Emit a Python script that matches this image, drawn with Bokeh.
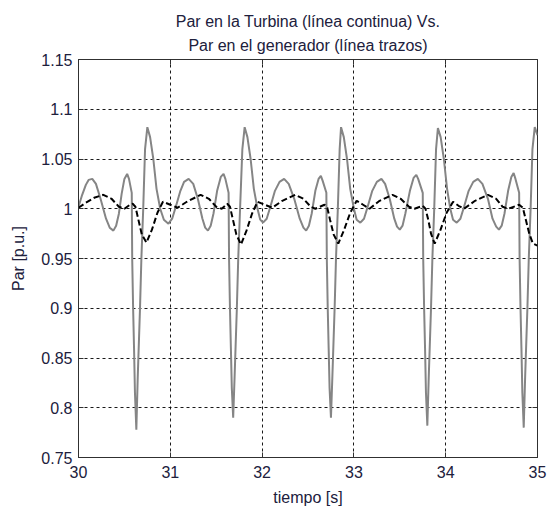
from bokeh.plotting import figure
from bokeh.models import Range1d, Title, LinearAxis, FixedTicker
from bokeh.embed import file_html
from bokeh.resources import INLINE

# ---- data ----
turbina_t = [
    # start
    30.00, 30.04, 30.08, 30.11, 30.15, 30.19, 30.24, 30.30, 30.34, 30.38, 30.41, 30.44, 30.47, 30.50, 30.53,
    # spike 1
    30.55, 30.58, 30.585, 30.595, 30.605, 30.615, 30.630, 30.645, 30.670, 30.685, 30.705, 30.725, 30.750,
    30.78, 30.815, 30.85, 30.89, 30.93, 30.98, 31.02, 31.06, 31.11, 31.15, 31.20, 31.25, 31.30, 31.35, 31.38,
    31.41, 31.44, 31.47, 31.51, 31.55, 31.58,
    # spike 2
    31.60, 31.635, 31.640, 31.650, 31.660, 31.670, 31.685, 31.700, 31.725, 31.740, 31.760, 31.785, 31.810,
    31.84, 31.875, 31.91, 31.95, 31.98, 32.01, 32.05, 32.09, 32.14, 32.19, 32.24, 32.29, 32.35, 32.41, 32.45,
    32.48, 32.51, 32.54, 32.58, 32.615, 32.64,
    # spike 3
    32.66, 32.70, 32.705, 32.715, 32.725, 32.735, 32.750, 32.765, 32.790, 32.805, 32.825, 32.845, 32.860,
    32.89, 32.925, 32.96, 33.00, 33.03, 33.07, 33.11, 33.15, 33.20, 33.25, 33.30, 33.34, 33.39, 33.44, 33.47,
    33.50, 33.53, 33.56, 33.61, 33.65, 33.68,
    # spike 4
    33.70, 33.75, 33.755, 33.765, 33.775, 33.785, 33.800, 33.815, 33.840, 33.855, 33.875, 33.895, 33.915,
    33.945, 33.98, 34.015, 34.05, 34.08, 34.12, 34.16, 34.20, 34.25, 34.30, 34.35, 34.40, 34.46, 34.51, 34.55,
    34.58, 34.61, 34.64, 34.68, 34.715, 34.74,
    # spike 5
    34.76, 34.80, 34.805, 34.815, 34.825, 34.835, 34.850, 34.865, 34.890, 34.905, 34.925, 34.945, 34.970,
    35.00,
]
turbina_par = [
    1.002, 1.014, 1.024, 1.029, 1.030, 1.025, 1.010, 0.990, 0.981, 0.978, 0.983, 0.995, 1.015, 1.030, 1.035,
    1.030, 1.016, 0.950, 0.900, 0.860, 0.815, 0.778, 0.830, 0.900, 0.950, 1.000, 1.060, 1.082,
    1.072, 1.050, 1.020, 1.000, 0.989, 0.985, 0.990, 1.002, 1.018, 1.027, 1.030, 1.025, 1.010, 0.990, 0.981,
    0.978, 0.983, 0.995, 1.018, 1.032, 1.035,
    1.030, 1.016, 0.950, 0.900, 0.860, 0.820, 0.790, 0.830, 0.900, 0.950, 1.000, 1.060, 1.082,
    1.072, 1.050, 1.020, 1.000, 0.989, 0.986, 0.990, 1.002, 1.018, 1.027, 1.030, 1.025, 1.010, 0.990, 0.981,
    0.978, 0.983, 0.995, 1.018, 1.030, 1.033,
    1.028, 1.016, 0.950, 0.900, 0.860, 0.820, 0.790, 0.830, 0.900, 0.950, 1.000, 1.060, 1.082,
    1.072, 1.050, 1.020, 1.000, 0.989, 0.986, 0.990, 1.002, 1.018, 1.027, 1.030, 1.025, 1.010, 0.990, 0.982,
    0.979, 0.983, 0.995, 1.018, 1.031, 1.034,
    1.030, 1.016, 0.950, 0.900, 0.860, 0.815, 0.782, 0.830, 0.900, 0.950, 1.000, 1.060, 1.081,
    1.072, 1.050, 1.020, 1.000, 0.989, 0.986, 0.990, 1.002, 1.018, 1.027, 1.030, 1.025, 1.010, 0.990, 0.982,
    0.979, 0.983, 0.995, 1.018, 1.032, 1.036,
    1.030, 1.016, 0.950, 0.900, 0.860, 0.815, 0.780, 0.830, 0.900, 0.950, 1.000, 1.060, 1.082,
    1.074,
]

generador_t = [
    30.00, 30.08, 30.17, 30.27, 30.36, 30.44, 30.50, 30.56, 30.59,
    30.62, 30.65, 30.69, 30.74, 30.80, 30.86, 30.92, 31.00, 31.08, 31.18, 31.33, 31.42, 31.50, 31.56, 31.62,
    31.65, 31.68, 31.72, 31.77, 31.83, 31.89, 31.95, 32.03, 32.11, 32.22, 32.36, 32.45, 32.53, 32.58, 32.68,
    32.71, 32.74, 32.78, 32.83, 32.89, 32.96, 33.03, 33.10, 33.17, 33.28, 33.42, 33.51, 33.60, 33.66, 33.75,
    33.78, 33.81, 33.84, 33.88, 33.94, 34.01, 34.08, 34.14, 34.20, 34.32, 34.46, 34.55, 34.62, 34.68, 34.80,
    34.84, 34.87, 34.91, 34.95, 35.00,
]
generador_par = [
    1.001, 1.006, 1.011, 1.014, 1.010, 1.002, 1.000, 1.004, 1.005,
    1.002, 0.990, 0.974, 0.966, 0.979, 0.996, 1.007, 1.004, 1.001, 1.007, 1.014, 1.010, 1.002, 1.000, 1.005,
    1.002, 0.990, 0.974, 0.964, 0.978, 0.995, 1.007, 1.004, 1.001, 1.008, 1.014, 1.010, 1.002, 1.000, 1.004,
    1.001, 0.989, 0.974, 0.965, 0.978, 0.996, 1.008, 1.004, 1.000, 1.008, 1.014, 1.010, 1.002, 1.000, 1.003,
    1.000, 0.989, 0.975, 0.965, 0.978, 0.996, 1.007, 1.003, 1.000, 1.008, 1.014, 1.010, 1.002, 1.000, 1.004,
    1.001, 0.990, 0.975, 0.965, 0.963,
]

x_ticks = [30, 31, 32, 33, 34, 35]
y_ticks = [0.75, 0.8, 0.85, 0.9, 0.95, 1.0, 1.05, 1.1, 1.15]
y_tick_labels = ["0.75", "0.8", "0.85", "0.9", "0.95", "1", "1.05", "1.1", "1.15"]

title_line1 = "Par en la Turbina (línea continua) Vs."
title_line2 = "Par en el generador (línea trazos)"
x_label = "tiempo [s]"
y_label = "Par [p.u.]"

# ---- styling ----
FONT = "Liberation Sans"
TXT = "#20203c"
FS = "16px"

p = figure(width=547, height=508, output_backend="svg", toolbar_location=None,
           x_range=Range1d(30, 35), y_range=Range1d(0.75, 1.15),
           min_border_left=78, min_border_right=10, min_border_top=59, min_border_bottom=46,
           background_fill_color="white", border_fill_color="white")
p.title.visible = False

p.outline_line_color = "#303030"
p.outline_line_width = 1

# main axes
for ax in (p.xaxis[0], p.yaxis[0]):
    ax.major_tick_in = 5
    ax.major_tick_out = 0
    ax.minor_tick_line_color = None
    ax.major_tick_line_color = "#303030"
    ax.axis_line_color = "#303030"
    ax.major_label_text_font = FONT
    ax.major_label_text_font_size = FS
    ax.major_label_text_color = TXT
    ax.axis_label_text_font = FONT
    ax.axis_label_text_font_size = FS
    ax.axis_label_text_font_style = "normal"
    ax.axis_label_text_color = TXT

p.xaxis[0].ticker = FixedTicker(ticks=x_ticks)
p.xaxis[0].major_label_standoff = 8
p.xaxis[0].axis_label = x_label
p.xaxis[0].axis_label_standoff = 8

p.yaxis[0].ticker = FixedTicker(ticks=y_ticks)
p.yaxis[0].major_label_overrides = dict(zip(y_ticks, y_tick_labels))
p.yaxis[0].major_label_standoff = 6
p.yaxis[0].axis_label = y_label
p.yaxis[0].axis_label_standoff = 11

# box ticks on top and right (no labels)
top_ax = LinearAxis(ticker=FixedTicker(ticks=x_ticks), major_tick_in=5, major_tick_out=0,
                    minor_tick_line_color=None, axis_line_color=None,
                    major_tick_line_color="#303030",
                    major_label_text_color=None, major_label_text_font_size="1px",
                    major_label_standoff=0)
right_ax = LinearAxis(ticker=FixedTicker(ticks=y_ticks), major_tick_in=5, major_tick_out=0,
                      minor_tick_line_color=None, axis_line_color=None,
                      major_tick_line_color="#303030",
                      major_label_text_color=None, major_label_text_font_size="1px",
                      major_label_standoff=0)
p.add_layout(top_ax, "above")
p.add_layout(right_ax, "right")

# grids
p.xgrid.ticker = FixedTicker(ticks=x_ticks)
p.ygrid.ticker = FixedTicker(ticks=y_ticks)
for g in (p.xgrid[0], p.ygrid[0]):
    g.grid_line_color = "black"
    g.grid_line_dash = "3 3"
    g.grid_line_width = 1
    g.grid_line_alpha = 0.9

# titles (two lines)
p.add_layout(Title(text=title_line2, align="center", text_font=FONT, text_font_size=FS,
                   text_font_style="normal", text_color=TXT, standoff=11), "above")
p.add_layout(Title(text=title_line1, align="center", text_font=FONT, text_font_size=FS,
                   text_font_style="normal", text_color=TXT, standoff=0), "above")

# series
p.line(turbina_t, turbina_par, line_color="#858585", line_width=2)
p.line(generador_t, generador_par, line_color="black", line_width=2, line_dash="6 3")

open("out.html", "w").write(file_html(p, INLINE))
